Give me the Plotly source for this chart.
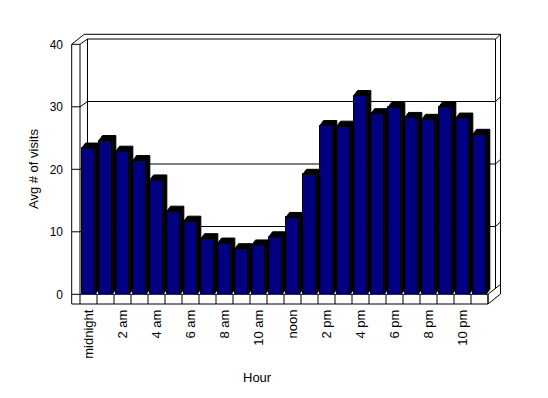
import plotly.graph_objects as go

# ---- data ----
hours = list(range(24))
visits = [23.4, 24.6, 22.9, 21.4, 18.3, 13.3, 11.7, 8.9, 8.2, 7.3, 7.9, 9.2,
          12.3, 19.2, 27.0, 26.9, 31.8, 28.9, 29.9, 28.3, 28.0, 30.0, 28.2, 25.6]
tick_hours = [0, 2, 4, 6, 8, 10, 12, 14, 16, 18, 20, 22]
tick_labels = ["midnight", "2 am", "4 am", "6 am", "8 am", "10 am", "noon",
               "2 pm", "4 pm", "6 pm", "8 pm", "10 pm"]
y_ticks = [0, 10, 20, 30, 40]

# ---- geometry (pixel-based styling) ----
OFF = 8                                # default page body margin
W, H = 548 - OFF, 398 - OFF
L, R, T, B = 70, 502, 32, 306          # plot area in page px
PX_X = 17.0                            # px per category
PX_Y = 6.25                            # px per unit
X0PX = 80.0                            # px of category start (-0.5)
Y0PX = 294.3                           # px of value 0

def dx(px):
    return px / PX_X

def dy(px):
    return px / PX_Y

xr = [(L - X0PX) / PX_X - 0.5, (R - X0PX) / PX_X - 0.5]
yr = [(Y0PX - B) / PX_Y, (Y0PX - T) / PX_Y]

XL = -0.5
XR = len(hours) - 0.5
XL0 = XL - dx(8.3)
YF = -dy(9.7)
YT = 40
dx1, dy1 = dx(7.5), dy(5.3)
dx2, dy2 = dx(12.5), dy(10.0)
BW = 0.78
dxb, dyb = dx(3.7), dy(5.0)

fig = go.Figure()

# 3D extrusion (top + side faces) computed from the data
ex, ey = [], []
for h, v in zip(hours, visits):
    x0, x1 = h - BW / 2, h + BW / 2
    ex += [x0, x0 + dxb, x1 + dxb, x1 + dxb, x1, x1, x0, None]
    ey += [v, v + dyb, v + dyb, dyb, 0, v, v, None]
fig.add_trace(go.Scatter(x=ex, y=ey, mode="lines", fill="toself",
                         fillcolor="black", line=dict(color="black", width=1),
                         hoverinfo="skip", showlegend=False))

fig.add_trace(go.Bar(x=hours, y=visits, width=BW,
                     marker=dict(color="#000080", line=dict(color="black", width=1)),
                     showlegend=False))

shapes = []
def line(xa, ya, xb, yb):
    shapes.append(dict(type="line", xref="x", yref="y", x0=xa, y0=ya, x1=xb, y1=yb,
                       line=dict(color="black", width=1), layer="below"))

# outer silhouette
path = (f"M {XL0},{YF} L {XL0},{YT} L {XL0+dx2},{YT+dy2} L {XR+dx2},{YT+dy2} "
        f"L {XR+dx2},{YF+dy2} L {XR},{YF} Z")
shapes.append(dict(type="path", xref="x", yref="y", path=path,
                   line=dict(color="black", width=1), fillcolor="white", layer="below"))
# walls and floor edges
line(XL0, YT, XL, YT)
line(XL, YT, XL + dx1, YT + dy1)
line(XL + dx1, YT + dy1, XR + dx1, YT + dy1)
line(XR + dx1, YT + dy1, XR + dx1, dy1)
line(XR + dx1, YT + dy1, XR + dx2, YT + dy2)
line(XL, 0, XL, YT)
line(XL + dx1, dy1, XL + dx1, YT + dy1)
line(XL0, 0, XR, 0)
line(XR, 0, XR + dx2, dy2)
line(XR, YF, XR, 0)
for k in range(len(hours) + 1):
    line(XL + k, YF, XL + k, 0)
# back-wall gridlines
for v in y_ticks[1:-1]:
    line(XL0, v, XL, v)
    line(XL, v, XL + dx1, v + dy1)
    line(XL + dx1, v + dy1, XR + dx1, v + dy1)
    line(XR + dx1, v + dy1, XR + dx2, v + dy2)

def paper_x(px):
    return (px - L) / (R - L)

def paper_y(py):
    return (B - py) / (B - T)

font = dict(family="Liberation Sans, Arial, sans-serif", size=13, color="black")

fig.update_layout(
    width=W, height=H,
    margin=dict(l=L - OFF, r=(W + OFF) - R, t=T - OFF, b=(H + OFF) - B, pad=0),
    paper_bgcolor="white", plot_bgcolor="white",
    font=font,
    shapes=shapes,
    bargap=0,
    xaxis=dict(range=xr, showgrid=False, zeroline=False, showline=False,
               tickmode="array", tickvals=tick_hours, ticktext=tick_labels,
               tickangle=-90, ticks="", tickfont=dict(size=13),
               ticklabelstandoff=0, fixedrange=True),
    yaxis=dict(range=yr, showgrid=False, zeroline=False, showline=False,
               tickmode="array", tickvals=y_ticks, ticks="",
               tickfont=dict(size=12), ticklabelstandoff=6, fixedrange=True),
    annotations=[
        dict(text="Avg # of visits", xref="paper", yref="paper",
             x=paper_x(33), y=paper_y(169), textangle=-90, showarrow=False,
             xanchor="center", yanchor="middle", font=font),
        dict(text="Hour", xref="paper", yref="paper",
             x=paper_x(257.5), y=paper_y(377), showarrow=False,
             xanchor="center", yanchor="middle", font=font),
    ],
)

fig.write_html("out.html")
